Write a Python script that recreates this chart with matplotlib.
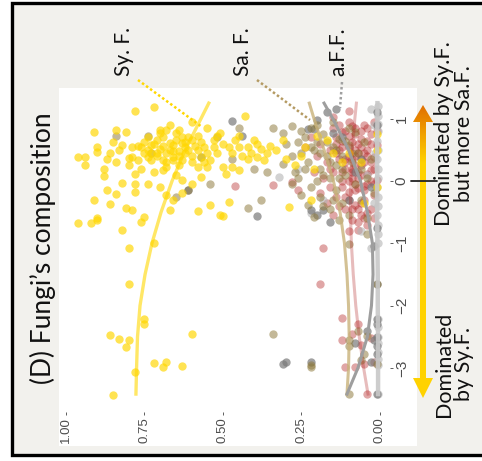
import numpy as np
import matplotlib
matplotlib.use("Agg")
import matplotlib.pyplot as plt
from matplotlib.patches import Rectangle, Polygon
from matplotlib.colors import LinearSegmentedColormap

# points as (share, gradient index); the panel is drawn turned on its side
syf_pts = [
    (0.78, 1.13), (0.72, 1.19), (0.91, 0.78), (0.84, 0.82), (0.81, 0.79), (0.96, 0.39), (0.94, 0.39),
    (0.94, 0.25), (0.90, 0.54), (0.90, 0.46), (0.88, 0.08), (0.87, 0.35), (0.91, -0.31), (0.87, -0.15),
    (0.86, -0.37), (0.84, -0.21), (0.82, -0.03), (0.81, -0.44), (0.79, -0.47), (0.78, 0.12), (0.78, -0.04),
    (0.78, -0.17), (0.80, 0.25), (0.80, 0.37), (0.79, 0.39), (0.77, 0.34), (0.77, 0.56), (0.76, 0.55),
    (0.74, 0.39), (0.73, 0.45), (0.74, 0.71), (0.74, 0.50), (0.73, 0.34), (0.71, 0.45), (0.71, 0.66),
    (0.70, 0.82), (0.70, 0.77), (0.69, 0.18), (0.69, 0.34), (0.68, 0.23), (0.68, 0.82), (0.67, 0.61),
    (0.67, 0.50), (0.66, 0.34), (0.66, 0.39), (0.65, 0.66), (0.65, 0.77), (0.64, 0.82), (0.63, 0.61),
    (0.63, 0.34), (0.62, 0.45), (0.61, 0.71), (0.61, 0.50), (0.60, 0.66), (0.59, 0.56), (0.58, 0.72),
    (0.58, 0.23), (0.57, 0.39), (0.55, 0.45), (0.55, 0.23), (0.54, 0.34), (0.53, 0.66), (0.52, 0.72),
    (0.51, 0.77), (0.50, 0.23), (0.49, 0.12), (0.47, 0.23), (0.47, 0.45), (0.46, 0.66), (0.43, 1.04),
    (0.45, 0.72), (0.42, 0.55), (0.41, 0.45), (0.40, 0.66), (0.39, 0.39), (0.37, 0.34), (0.36, 0.45),
    (0.35, 0.56), (0.31, 0.66), (0.29, -0.41), (0.22, -0.31), (0.20, 0.72), (0.17, 0.66), (0.15, 0.45),
    (0.10, 0.45), (0.01, 0.76), (0.01, 0.50), (0.01, -0.09),
    (0.96, -0.67), (0.92, -0.68), (0.90, -0.63), (0.90, -0.60), (0.82, -0.79), (0.80, -1.07), (0.76, -0.65),
    (0.75, -0.58), (0.72, -1.00), (0.68, -0.23), (0.67, -0.47), (0.66, -0.31), (0.63, -0.20), (0.60, -0.04),
    (0.63, 0.02), (0.58, -0.48), (0.54, -0.39), (0.51, -0.55), (0.50, -0.56), (0.48, -0.33), (0.45, 0.18),
    (0.57, 0.07),
    (0.72, 0.60), (0.70, 0.52), (0.68, 0.45), (0.66, 0.58), (0.64, 0.48), (0.62, 0.62), (0.60, 0.40),
    (0.58, 0.50), (0.69, 0.70), (0.63, 0.70), (0.57, 0.62), (0.75, 0.62), (0.83, 0.50), (0.85, 0.62),
    (0.88, 0.20), (0.84, 0.30), (0.82, 0.58), (0.76, 0.20), (0.72, 0.15), (0.65, 0.10), (0.70, -0.10),
    (0.74, -0.05), (0.67, 0.90), (0.60, 0.95), (0.55, 0.85), (0.48, 0.55), (0.44, 0.40), (0.38, 0.52),
    (0.33, 0.50), (0.30, 0.35), (0.27, 0.25), (0.25, 0.40), (0.24, 0.55), (0.21, 0.20), (0.06, 0.30),
    (0.05, -0.35), (0.12, 0.30),
    (0.71, 0.40), (0.69, 0.56), (0.66, 0.48), (0.64, 0.40), (0.62, 0.55), (0.60, 0.30), (0.56, 0.55),
    (0.52, 0.45), (0.50, 0.60), (0.68, 0.30), (0.64, 0.25), (0.75, 0.45), (0.79, 0.55), (0.86, 0.45),
    (0.56, 0.30), (0.53, 0.55), (0.45, 0.55), (0.42, 0.35), (0.39, 0.60), (0.73, 0.58),
    (0.80, -1.65), (0.75, -2.22), (0.75, -2.30), (0.86, -2.47), (0.83, -2.54), (0.81, -2.66), (0.80, -2.56),
    (0.72, -2.92), (0.69, -2.99), (0.68, -2.90), (0.63, -2.97), (0.60, -2.46), (0.78, -3.06), (0.85, -3.43),
]

saf_pts = [
    (0.84, 0.73), (0.74, 0.72), (0.73, 0.45), (0.65, -0.25), (0.61, -0.15), (0.54, -0.05), (0.45, 0.85),
    (0.42, -0.43), (0.38, -0.31), (0.34, 0.85), (0.31, 0.77), (0.28, 0.88), (0.25, 0.80), (0.22, 0.85),
    (0.31, 0.28), (0.25, 0.45), (0.36, 0.15), (0.40, 0.20), (0.47, 0.35), (0.52, 0.70),
    (0.30, 0.60), (0.28, 0.40), (0.27, 0.15), (0.26, 0.05), (0.24, 0.70), (0.23, 0.30), (0.22, -0.10),
    (0.21, 0.50), (0.20, 0.62), (0.19, 0.20), (0.19, -0.25), (0.18, 0.75), (0.17, 0.40), (0.16, 0.05),
    (0.16, -0.45), (0.15, 0.55), (0.14, 0.25), (0.14, -0.15), (0.13, 0.68), (0.12, 0.40), (0.12, -0.35),
    (0.11, 0.10), (0.10, 0.58), (0.10, -0.55), (0.09, 0.30), (0.08, -0.05), (0.08, 0.78), (0.07, 0.45),
    (0.06, -0.30), (0.06, 0.20), (0.05, 0.62), (0.04, -0.60), (0.04, 0.05), (0.03, 0.35), (0.02, -0.20),
    (0.13, -0.62), (0.18, -0.40), (0.21, -0.58), (0.23, -0.38), (0.25, -0.22), (0.28, -0.05), (0.20, 0.90),
    (0.15, 0.95), (0.10, 0.85),
    (0.22, 0.55), (0.19, 0.45), (0.17, 0.62), (0.16, 0.30), (0.14, 0.50), (0.12, 0.20), (0.11, 0.65),
    (0.09, 0.45), (0.18, 0.10), (0.20, 0.00), (0.15, -0.30), (0.13, 0.05), (0.24, 0.20), (0.26, 0.62),
    (0.34, -2.46), (0.22, -2.95), (0.22, -2.99), (0.10, -2.56), (0.10, -3.42), (0.10, -2.65), (0.10, -1.01),
    (0.01, -1.65), (0.04, -2.49), (0.05, -2.78), (0.01, -2.94), (0.07, -2.40), (0.06, -2.88), (0.04, -0.85),
]

aff_pts = [
    (0.47, 0.97), (0.44, 0.72), (0.57, 0.39), (0.61, -0.15), (0.39, -0.56), (0.30, -2.90), (0.31, -2.93),
    (0.22, -2.90), (0.16, -0.65), (0.18, -0.47), (0.22, -0.47), (0.23, 0.84), (0.21, 0.84), (0.20, 0.98),
    (0.15, 0.77), (0.14, 1.15), (0.17, 1.10), (0.12, 0.70), (0.06, 0.35), (0.08, 0.15), (0.03, -0.10),
    (0.01, -0.75), (0.02, -1.05), (0.01, -1.65), (0.01, -2.22), (0.01, -2.30), (0.04, -2.40), (0.01, -2.50),
    (0.02, -2.55), (0.01, -2.65), (0.01, -2.78), (0.03, -2.90), (0.01, -3.42), (0.08, -2.60), (0.20, -0.55),
    (0.10, -0.30), (0.01, 0.90), (0.01, 1.10),
]

red_pts = [
    (0.15, 1.02), (0.28, -0.02), (0.34, -0.06), (0.46, -0.08), (0.10, 1.13), (0.18, -1.07), (0.19, -1.65),
    (0.10, -0.80), (0.12, -2.20), (0.07, -2.30), (0.12, -2.56), (0.06, -2.63), (0.03, -2.52), (0.04, -3.42),
    (0.08, -2.98), (0.05, -2.94), (0.02, -2.91), (0.11, -2.99), (0.09, -2.45), (0.26, -0.15),
    (0.02, 0.95), (0.05, 0.90), (0.08, 0.85), (0.11, 0.80), (0.14, 0.70), (0.03, 0.75), (0.06, 0.68),
    (0.09, 0.62), (0.12, 0.55), (0.16, 0.50), (0.01, 0.58), (0.04, 0.50), (0.07, 0.45), (0.10, 0.40),
    (0.13, 0.35), (0.02, 0.38), (0.05, 0.30), (0.08, 0.25), (0.11, 0.20), (0.15, 0.15), (0.03, 0.18),
    (0.06, 0.10), (0.09, 0.05), (0.12, 0.00), (0.01, 0.02), (0.04, -0.05), (0.07, -0.12), (0.10, -0.18),
    (0.14, -0.25), (0.02, -0.22), (0.05, -0.30), (0.08, -0.38), (0.11, -0.45), (0.03, -0.45), (0.06, -0.55),
    (0.09, -0.62), (0.04, -0.70), (0.07, -0.78), (0.02, -0.60), (0.13, 0.90), (0.10, 0.95), (0.17, 0.30),
    (0.18, 0.05), (0.16, -0.10), (0.13, -0.40), (0.08, 0.75), (0.06, 0.55), (0.09, 0.35), (0.07, 0.15),
    (0.05, -0.15), (0.03, 0.60), (0.12, 0.65), (0.15, 0.85), (0.04, 0.85), (0.10, 0.72), (0.08, 0.50),
    (0.11, 0.30), (0.06, 0.35), (0.14, 0.45), (0.09, 0.15), (0.12, -0.10), (0.10, -0.30), (0.07, -0.45),
    (0.05, -0.60), (0.02, 0.20), (0.04, 0.40), (0.01, 0.80), (0.06, 0.80), (0.03, 0.00), (0.08, -0.05),
    (0.19, 0.60), (0.20, 0.40), (0.21, 0.15), (0.22, 0.70), (0.24, 0.55), (0.17, -0.35), (0.15, -0.55),
    (0.19, -0.20),
    (0.04, 0.65), (0.07, 0.60), (0.10, 0.55), (0.13, 0.50), (0.05, 0.45), (0.08, 0.40), (0.11, 0.35),
    (0.06, 0.25), (0.09, 0.20), (0.12, 0.15), (0.04, 0.12), (0.07, 0.05), (0.10, 0.00), (0.05, -0.08),
    (0.08, -0.15), (0.11, -0.25), (0.06, -0.35), (0.09, -0.45), (0.04, -0.52), (0.07, -0.65),
    (0.03, 0.30), (0.12, 0.78), (0.09, 0.88), (0.14, 0.60), (0.16, 0.20), (0.02, -0.05),
]

lgray_pts = [
    (0.005, 1.20), (0.005, 1.05), (0.005, 0.92), (0.005, 0.80), (0.010, 0.65), (0.005, 0.50), (0.010, 0.35),
    (0.005, 0.20), (0.005, 0.05), (0.010, -0.10), (0.005, -0.25), (0.005, -0.40), (0.010, -0.55),
    (0.005, -0.70), (0.005, -0.85), (0.005, -1.00), (0.005, -2.22), (0.005, -2.35), (0.005, -2.50),
    (0.005, -2.60), (0.005, -2.75), (0.005, -2.85), (0.005, -2.95), (0.005, -3.42), (0.020, 0.90),
    (0.030, 1.15), (0.040, 0.10), (0.020, -0.35), (0.32, 0.06), (0.22, -0.52), (0.26, 0.20), (0.18, -0.30),
    (0.060, -0.80), (0.030, -1.08), (0.015, 0.45),
]

# smoothed trends, read at these index values
fit_index = [-3.42, -3.0, -2.5, -2.0, -1.5, -1.0, -0.5, 0.0, 0.5, 1.0, 1.25]
syf_fit = [0.777, 0.775, 0.772, 0.764, 0.748, 0.726, 0.697, 0.662, 0.620, 0.570, 0.545]
saf_fit = [0.105, 0.100, 0.098, 0.100, 0.105, 0.113, 0.127, 0.148, 0.178, 0.210, 0.225]
red_fit = [0.038, 0.052, 0.066, 0.077, 0.085, 0.091, 0.094, 0.093, 0.088, 0.080, 0.075]
aff_fit = [0.105, 0.070, 0.040, 0.027, 0.022, 0.024, 0.040, 0.062, 0.100, 0.150, 0.178]
lgray_fit = [0.006, 0.006, 0.006, 0.007, 0.007, 0.008, 0.009, 0.009, 0.009, 0.008, 0.008]

share_ticks = [1.0, 0.75, 0.5, 0.25, 0.0]
share_labels = ["1.00", "0.75", "0.50", "0.25", "0.00"]
index_ticks = [-3, -2, -1, 0, 1]
index_labels = ["\u22123", "\u22122", "\u22121", "0", "1"]

W, H = 482, 461
TXT = "Lato"

fig = plt.figure(figsize=(W / 100, H / 100), dpi=100)
fig.patch.set_facecolor("white")

# background layer in pixel coordinates
bg = fig.add_axes([0, 0, 1, 1])
bg.set_xlim(0, W)
bg.set_ylim(H, 0)
bg.axis("off")
bg.add_patch(Rectangle((12, 3.5), 490, 451.5, facecolor="#f2f1ed", edgecolor="black", lw=2.4))
bg.add_patch(Rectangle((59, 88), 358, 358, facecolor="white", edgecolor="none"))

# gradient double arrow
cx = 423
verts = [(cx, 105), (cx + 10, 122), (cx + 3, 122), (cx + 3, 378), (cx + 10, 378), (cx, 398),
         (cx - 10, 378), (cx - 3, 378), (cx - 3, 122), (cx - 10, 122)]
arrow = Polygon(verts, closed=True, facecolor="none", edgecolor="none")
bg.add_patch(arrow)
cmap = LinearSegmentedColormap.from_list("arr", [(0, "#e06d00"), (0.2, "#ffd200"), (1, "#ffd200")])
grad = np.linspace(0, 1, 300)[:, None]
im = bg.imshow(grad, cmap=cmap, extent=(cx - 11, cx + 11, 399, 104), origin="upper",
               aspect="auto", interpolation="bilinear", zorder=3)
im.set_clip_path(arrow)
bg.plot([411, 437], [181, 181], color="#222222", lw=1.3, solid_capstyle="round", zorder=4)
bg.set_xlim(0, W)
bg.set_ylim(H, 0)

bg.text(43, 248, "(D) Fungi\u2019s composition", rotation=90, ha="center", va="center",
        fontsize=19, family=TXT, color="#111111")
for x, lab in [(124, "Sy. F."), (243, "Sa. F."), (338, "a.F.F.")]:
    bg.text(x, 76, lab, rotation=90, ha="center", va="bottom", fontsize=15, family=TXT, color="#111111")
bg.text(454, 134, "Dominated by Sy.F.\nbut more Sa.F.", rotation=90, ha="center", va="center",
        multialignment="center", fontsize=15.5, family=TXT, color="#111111", linespacing=1.0)
bg.text(454, 364, "Dominated\nby Sy.F.", rotation=90, ha="center", va="center",
        multialignment="center", fontsize=15.5, family=TXT, color="#111111", linespacing=1.0)

# main panel
ax = fig.add_axes([59 / W, 1 - 412 / H, 331 / W, 323 / H])
ax.set_facecolor("none")
for s in ax.spines.values():
    s.set_visible(False)


def pts(p):
    a = np.array(p)
    return a[:, 0], a[:, 1]


ms = 36
v, i = pts(red_pts)
ax.scatter(v, i, s=ms, color="#b22222", alpha=0.4, linewidths=0)
v, i = pts(lgray_pts)
ax.scatter(v, i, s=ms, color="#b4b4b4", alpha=0.6, linewidths=0)
v, i = pts(aff_pts)
ax.scatter(v, i, s=ms, color="#7a7a7a", alpha=0.7, linewidths=0)
v, i = pts(saf_pts)
ax.scatter(v, i, s=ms, color="#8c783a", alpha=0.52, linewidths=0)
v, i = pts(syf_pts)
ax.scatter(v, i, s=ms, color="#ffd700", alpha=0.68, linewidths=0)

ax.plot(lgray_fit, fit_index, color="#c8c8c8", lw=3.2, alpha=0.9)
ax.plot(red_fit, fit_index, color="#b22222", lw=2.2, alpha=0.3)
ax.plot(saf_fit, fit_index, color="#c9b27a", lw=2.2, alpha=0.8)
ax.plot(aff_fit, fit_index, color="#9e9e9e", lw=2.2)
ax.plot(syf_fit, fit_index, color="#ffd700", lw=2.4, alpha=0.6)

ax.set_xlim(1.022, -0.032)
ax.set_ylim(-3.708, 1.477)
ax.set_xticks(share_ticks)
ax.set_xticklabels(share_labels, rotation=90)
ax.yaxis.tick_right()
ax.set_yticks(index_ticks)
ax.set_yticklabels(index_labels, rotation=90, va="center")
ax.tick_params(axis="x", length=2, width=0.6, color="#444444", pad=1.5, labelsize=9.5,
               labelcolor="#4d4d4d")
ax.tick_params(axis="y", length=2, width=0.6, color="#444444", pad=1.5, labelsize=11,
               labelcolor="#4d4d4d")
for t in ax.get_xticklabels() + ax.get_yticklabels():
    t.set_family("Liberation Sans")

# dotted leaders from the labels into the cloud
fg = fig.add_axes([0, 0, 1, 1])
fg.set_xlim(0, W)
fg.set_ylim(H, 0)
fg.axis("off")
fg.patch.set_visible(False)
fg.plot([138, 202], [80, 127], color="#ffd700", lw=1.8, ls=(0, (1, 1)))
fg.plot([257, 310], [80, 120], color="#b49a62", lw=1.8, ls=(0, (1, 1)))
fg.plot([342, 340], [82, 108], color="#a0a0a0", lw=1.8, ls=(0, (1, 1)))

fig.savefig("out.png", dpi=100)
